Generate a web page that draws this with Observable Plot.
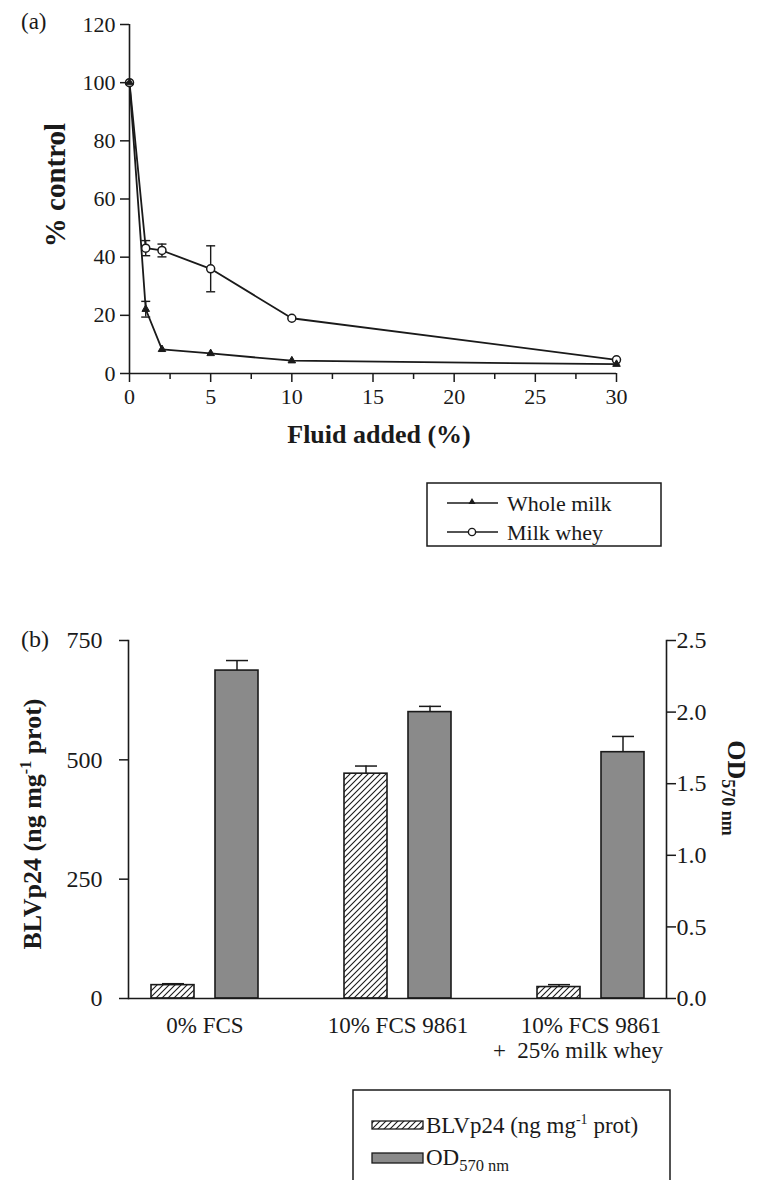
<!DOCTYPE html>
<html><head><meta charset="utf-8">
<script src="https://cdn.jsdelivr.net/npm/d3@7"></script>
<script src="https://cdn.jsdelivr.net/npm/@observablehq/plot@0.6"></script>
<style>
body{margin:0;background:#fff;font-family:"Liberation Serif","Times New Roman",serif;color:#1a1a1a;}
#root{position:relative;width:757px;height:1180px;overflow:hidden;background:#fff;}
#root > svg, #root > .abs{position:absolute;}
.panel-label{position:absolute;font-family:"Liberation Serif",serif;}
</style></head><body><div id="root"></div>
<script>
// ---------- Panel (a) data ----------
const fluidAdded   = [0, 1, 2, 5, 10, 30];
const wholeMilk    = [100, 22.1, 8.3, 6.9, 4.4, 3.2];
const wholeMilkErr = [0, 2.7, 0, 0, 0, 0];
const milkWhey     = [100, 43.1, 42.3, 36.0, 19.0, 4.7];
const milkWheyErr  = [0, 2.6, 2.2, 7.9, 0, 0];
const seriesA      = ["Whole milk", "Milk whey"];
const xTicksA      = [0, 5, 10, 15, 20, 25, 30];
const xMinorTicksA = [2.5, 7.5, 12.5, 17.5, 22.5, 27.5];
const yTicksA      = [0, 20, 40, 60, 80, 100, 120];

// ---------- Panel (b) data ----------
const groups     = ["0% FCS", "10% FCS 9861", "10% FCS 9861 + 25% milk whey"];
const groupLine1 = ["0% FCS", "10% FCS 9861", "10% FCS 9861"];
const groupLine2 = ["", "", "+  25% milk whey"];
const blvp24     = [28, 471, 24];
const blvp24Err  = [3, 16, 5];
const od570      = [2.29, 2.00, 1.72];
const od570Err   = [0.07, 0.04, 0.11];
const yTicksLeftB  = [0, 250, 500, 750];
const yTicksRightB = [0, 0.5, 1.0, 1.5, 2.0, 2.5];
const leftMaxB = 750, rightMaxB = 2.5;

const INK = "#1a1a1a";
const GREY = "#8a8a8a";
const FONT = "Liberation Serif, Times New Roman, serif";

const root = document.getElementById("root");

// horizontal cap symbol for error bars
const capSymbol = {draw(ctx, size) { const r = Math.sqrt(size / Math.PI); ctx.moveTo(-r, 0); ctx.lineTo(r, 0); }};

// ---------- Panel (a) ----------
const dataA = [];
fluidAdded.forEach((x, i) => {
  dataA.push({series: seriesA[0], x, y: wholeMilk[i], err: wholeMilkErr[i]});
  dataA.push({series: seriesA[1], x, y: milkWhey[i], err: milkWheyErr[i]});
});
const errA = dataA.filter(d => d.err > 0);

const plotA = Plot.plot({
  width: 757, height: 470,
  marginLeft: 129, marginRight: 141, marginTop: 24, marginBottom: 97,
  style: {fontFamily: FONT, fontSize: "22px", color: INK, background: "transparent", overflow: "visible"},
  x: {domain: [0, 30]},
  y: {domain: [0, 120]},
  marks: [
    Plot.ruleX([0], {stroke: INK, strokeWidth: 1.6}),
    Plot.ruleY([0], {stroke: INK, strokeWidth: 1.6}),
    Plot.ruleX(errA, {x: "x", y1: d => d.y - d.err, y2: d => d.y + d.err, stroke: INK, strokeWidth: 1.4}),
    Plot.dot(errA, {x: "x", y: d => d.y + d.err, symbol: capSymbol, r: 4.5, stroke: INK, strokeWidth: 1.4}),
    Plot.dot(errA, {x: "x", y: d => d.y - d.err, symbol: capSymbol, r: 4.5, stroke: INK, strokeWidth: 1.4}),
    Plot.line(dataA, {x: "x", y: "y", z: "series", stroke: INK, strokeWidth: 1.8}),
    Plot.dot(dataA.filter(d => d.series === seriesA[1]), {x: "x", y: "y", r: 4, fill: "white", stroke: INK, strokeWidth: 1.5}),
    Plot.dot(dataA.filter(d => d.series === seriesA[0]), {x: "x", y: "y", symbol: "triangle", r: 2.8, fill: INK, stroke: INK, strokeWidth: 1}),
    Plot.axisX({ticks: xTicksA, tickSize: 9, tickPadding: 6, label: null, fontSize: 22, strokeWidth: 1.5}),
    Plot.axisX({ticks: xMinorTicksA, tickSize: 6, tickFormat: () => "", label: null, strokeWidth: 1.5}),
    Plot.axisY({ticks: yTicksA, tickSize: 9, tickPadding: 5, label: null, fontSize: 22, strokeWidth: 1.5}),
    Plot.text(["Fluid added (%)"], {frameAnchor: "bottom", dy: 69, dx: 6, fontWeight: "bold", fontSize: 26, fill: INK}),
    Plot.text(["% control"], {frameAnchor: "left", textAnchor: "middle", dx: -74, dy: -14, rotate: -90, fontWeight: "bold", fontSize: 29, fill: INK})
  ]
});
plotA.style.left = "0px"; plotA.style.top = "0px";
root.appendChild(plotA);

// ---------- Panel (b) ----------
const k = leftMaxB / rightMaxB;
const dataB = groups.map((g, i) => ({group: g, line1: groupLine1[i], line2: groupLine2[i],
  blv: blvp24[i], blvErr: blvp24Err[i], od: od570[i], odErr: od570Err[i]}));

const plotB = Plot.plot({
  width: 757, height: 480,
  marginLeft: 128, marginRight: 91, marginTop: 50, marginBottom: 72,
  style: {fontFamily: FONT, fontSize: "24px", color: INK, background: "transparent", overflow: "visible"},
  x: {domain: groups, paddingInner: 0.4456, paddingOuter: 0.114},
  y: {domain: [0, leftMaxB]},
  marks: [
    Plot.barY(dataB, {x: "group", y: "blv", insetRight: 64, fill: "url(#hatchB)", stroke: INK, strokeWidth: 1.6}),
    Plot.barY(dataB, {x: "group", y: d => d.od * k, insetLeft: 64, fill: GREY, stroke: INK, strokeWidth: 1.6}),
    Plot.ruleX(dataB, {x: "group", y1: "blv", y2: d => d.blv + d.blvErr, dx: -32, stroke: INK, strokeWidth: 1.5}),
    Plot.dot(dataB, {x: "group", y: d => d.blv + d.blvErr, dx: -32, symbol: capSymbol, r: 11, stroke: INK, strokeWidth: 1.5}),
    Plot.ruleX(dataB, {x: "group", y1: d => d.od * k, y2: d => (d.od + d.odErr) * k, dx: 32, stroke: INK, strokeWidth: 1.5}),
    Plot.dot(dataB, {x: "group", y: d => (d.od + d.odErr) * k, dx: 32, symbol: capSymbol, r: 11, stroke: INK, strokeWidth: 1.5}),
    Plot.frame({anchor: "left", stroke: INK, strokeWidth: 1.6}),
    Plot.frame({anchor: "right", stroke: INK, strokeWidth: 1.6}),
    Plot.ruleY([0], {stroke: INK, strokeWidth: 1.6}),
    Plot.axisY({ticks: yTicksLeftB, tickSize: 9, tickPadding: 17, label: null, fontSize: 24, strokeWidth: 1.5}),
    Plot.axisY({anchor: "right", ticks: yTicksRightB.map(v => v * k), tickFormat: d => (d / k).toFixed(1),
      tickSize: 9, tickPadding: 1, label: null, fontSize: 24, strokeWidth: 1.5}),
    Plot.axisX({tickSize: 0, tickPadding: 18, tickFormat: g => groupLine1[groups.indexOf(g)], label: null, fontSize: 23}),
    Plot.text(dataB.filter(d => d.line2), {x: "group", text: "line2", frameAnchor: "bottom", textAnchor: "end", dx: 72, dy: 59, fontSize: 23, fill: INK})
  ]
});
plotB.style.left = "0px"; plotB.style.top = "590px";
root.appendChild(plotB);

function addHatch(svgSel, id) {
  const p = svgSel.insert("defs", ":first-child").append("pattern")
    .attr("id", id).attr("patternUnits", "userSpaceOnUse").attr("width", 6).attr("height", 6);
  p.append("rect").attr("width", 6).attr("height", 6).attr("fill", "white");
  p.append("path").attr("d", "M0,6 L6,0 M-1.5,1.5 L1.5,-1.5 M4.5,7.5 L7.5,4.5")
    .attr("stroke", INK).attr("stroke-width", 1.1);
}
const sB = d3.select(plotB);
addHatch(sB, "hatchB");

// Axis titles for panel (b)
const lt = sB.append("text").attr("transform", "translate(41,234) rotate(-90)")
  .attr("text-anchor", "middle").attr("font-family", FONT).attr("font-weight", "bold")
  .attr("font-size", 26).attr("fill", INK);
lt.append("tspan").text("BLVp24 (ng mg");
lt.append("tspan").attr("dy", -10).attr("font-size", 16).text("-1");
lt.append("tspan").attr("dy", 10).text(" prot)");

const rt = sB.append("text").attr("transform", "translate(728,198) rotate(90)")
  .attr("text-anchor", "middle").attr("font-family", FONT).attr("font-weight", "bold")
  .attr("font-size", 26).attr("fill", INK);
rt.append("tspan").text("OD");
rt.append("tspan").attr("dy", 6).attr("font-size", 18).text("570 nm");

// Panel labels
function addLabel(txt, x, y, size) {
  const d = document.createElement("div");
  d.className = "panel-label"; d.textContent = txt;
  d.style.left = x + "px"; d.style.top = y + "px"; d.style.fontSize = size + "px";
  root.appendChild(d);
}
addLabel("(a)", 21, 9, 23);
addLabel("(b)", 21, 626, 24);

// ---------- Legend (a) ----------
const legA = d3.select(root).append("svg").attr("class", "abs")
  .attr("width", 236).attr("height", 65).style("left", "426px").style("top", "482px");
legA.append("rect").attr("x", 1).attr("y", 1).attr("width", 234).attr("height", 63)
  .attr("fill", "white").attr("stroke", INK).attr("stroke-width", 1.5);
[[seriesA[0], 21], [seriesA[1], 50]].forEach(([name, y], i) => {
  legA.append("line").attr("x1", 21).attr("x2", 72).attr("y1", y).attr("y2", y).attr("stroke", INK).attr("stroke-width", 1.6);
  if (i === 0) {
    legA.append("path").attr("d", d3.symbol(d3.symbolTriangle, 22)()).attr("transform", `translate(46,${y - 1})`).attr("fill", INK);
  } else {
    legA.append("circle").attr("cx", 46).attr("cy", y).attr("r", 3.6).attr("fill", "white").attr("stroke", INK).attr("stroke-width", 1.4);
  }
  legA.append("text").attr("x", 81).attr("y", y).attr("dy", "0.35em").attr("font-family", FONT)
    .attr("font-size", 22).attr("fill", INK).text(name);
});

// ---------- Legend (b) ----------
const legB = d3.select(root).append("svg").attr("class", "abs")
  .attr("width", 320).attr("height", 100).style("left", "352px").style("top", "1089px");
addHatch(legB, "hatchLeg");
legB.append("rect").attr("x", 1).attr("y", 1).attr("width", 317).attr("height", 110)
  .attr("fill", "white").attr("stroke", INK).attr("stroke-width", 1.5);
legB.append("rect").attr("x", 20).attr("y", 32).attr("width", 51).attr("height", 8)
  .attr("fill", "url(#hatchLeg)").attr("stroke", INK).attr("stroke-width", 1.3);
legB.append("rect").attr("x", 20).attr("y", 64).attr("width", 51).attr("height", 10)
  .attr("fill", GREY).attr("stroke", INK).attr("stroke-width", 1.3);
const l1 = legB.append("text").attr("x", 74).attr("y", 36).attr("dy", "0.35em")
  .attr("font-family", FONT).attr("font-size", 23).attr("fill", INK);
l1.append("tspan").text("BLVp24 (ng mg");
l1.append("tspan").attr("dy", -9).attr("font-size", 14).text("-1");
l1.append("tspan").attr("dy", 9).text(" prot)");
const l2 = legB.append("text").attr("x", 74).attr("y", 68).attr("dy", "0.35em")
  .attr("font-family", FONT).attr("font-size", 23).attr("fill", INK);
l2.append("tspan").text("OD");
l2.append("tspan").attr("dy", 6).attr("font-size", 16.5).text("570 nm");
</script></body></html>
